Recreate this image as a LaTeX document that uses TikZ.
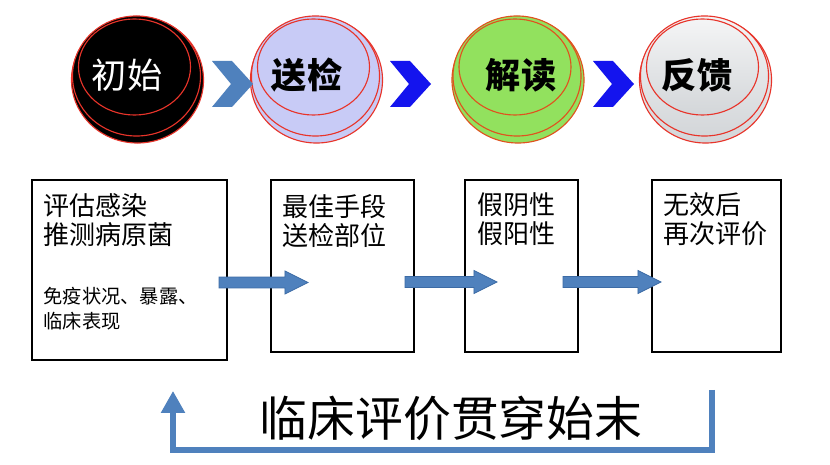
\documentclass[tikz,border=0pt]{standalone}
\usepackage{fontspec}
\usepackage{tikz}
\usetikzlibrary{arrows.meta,calc,shapes.geometric}
\newfontfamily\cjk{Noto Sans CJK SC}

\definecolor{stepblue}{HTML}{4F81BD}
\definecolor{stepedge}{HTML}{3C6BA5}
\definecolor{chevblue}{HTML}{1414EE}
\definecolor{ringred}{HTML}{E8342A}
\definecolor{ringorange}{HTML}{E0521E}
\definecolor{lavend}{HTML}{C8CBF6}
\definecolor{leafgreen}{HTML}{92E15E}
\definecolor{silver}{HTML}{D3D6D9}

\begin{document}
\begin{tikzpicture}[x=0.025cm,y=-0.025cm,line width=0.9pt,
  ring/.style={ellipse, draw=ringred, line width=0.8pt, inner sep=0pt},
  face1/.style={fill=black},
  face2/.style={fill=lavend},
  face3/.style={fill=leafgreen, draw=ringorange},
  face4/.style={top color=silver!25, bottom color=silver},
  stagebox/.style={draw, line width=1.4pt, inner sep=0pt},
  boxtext/.style={anchor=north west, align=left, inner sep=0pt,
    font=\cjk\fontsize{18.5}{20.8}\selectfont},
  smalltext/.style={anchor=north west, align=left, inner sep=0pt,
    font=\cjk\fontsize{13.7}{17.8}\selectfont},
  flow/.style={fill=stepblue, draw=stepedge, line width=0.6pt},
  feedback/.style={draw=stepblue, line width=3.6pt, line join=miter,
    -{Triangle[width=16.4pt,length=15.6pt]}},
]
\useasboundingbox[fill=white] (0,0) rectangle (830,465);

% stage buttons
\foreach \n/\cx/\tx/\tc/\wt in {1/137.5/127/white/\mdseries,
                                2/316.5/307/black/\bfseries,
                                3/518/521/black/\bfseries,
                                4/705.5/697/black/\bfseries}{
  \node[ring, face\n, minimum width=3.3cm, minimum height=3.15cm] (s\n a) at (\cx,80) {};
  \node[ring, face\n, minimum width=3.2cm, minimum height=3.0cm] (s\n b) at (\cx-1,76) {};
  \node[ring, face\n, minimum width=2.8cm, minimum height=2.4cm] (s\n) at (\cx-3,67) {};
}
\node[text=white, font=\cjk\fontsize{25}{28}\selectfont] (t1) at (127,75) {初始};
\node[font=\cjk\bfseries\fontsize{25}{28}\selectfont] (t2) at (307,75) {送检};
\node[font=\cjk\bfseries\fontsize{25}{28}\selectfont] (t3) at (521,75) {解读};
\node[font=\cjk\bfseries\fontsize{25}{28}\selectfont] (t4) at (697,75) {反馈};

% chevrons
\foreach \x/\c in {212/stepblue, 390/chevblue, 593/chevblue}
  \fill[\c] (\x,61) -- (\x+20,61) -- (\x+41,84) -- (\x+20,107)
    -- (\x,107) -- (\x+19,84) -- cycle;

% stage boxes
\node[stagebox, minimum width=4.875cm, minimum height=4.5cm] (b1) at (129.5,270) {};
\node[stagebox, minimum width=3.575cm, minimum height=4.3cm] (b2) at (342.5,266) {};
\node[stagebox, minimum width=2.825cm, minimum height=4.3cm] (b3) at (521.5,266) {};
\node[stagebox, minimum width=3.225cm, minimum height=4.3cm] (b4) at (716.5,266) {};

\node[boxtext] (b1t) at (43,193) {评估感染\\推测病原菌};
\node[smalltext] (b1s) at (43,287) {免疫状况、暴露、\\临床表现};
\node[boxtext] (b2t) at (282,194) {最佳手段\\送检部位};
\node[boxtext] (b3t) at (477,192) {假阴性\\假阳性};
\node[boxtext] (b4t) at (663,192) {无效后\\再次评价};

% block arrows between boxes
\coordinate (a1s) at (219,282.5);
\coordinate (a1e) at (308,282.5);
\coordinate (a2s) at (405,282);
\coordinate (a2e) at (497,282);
\coordinate (a3s) at (563,282);
\coordinate (a3e) at (661,282);
\foreach \a/\b in {a1s/a1e, a2s/a2e, a3s/a3e}
  \path[flow] let \p1=(\a), \p2=(\b) in
    (\x1,\y1+3.9pt) -- (\x2-16.4pt,\y1+3.9pt) -- (\x2-16.4pt,\y1+8.2pt)
    -- (\x2,\y1) -- (\x2-16.4pt,\y1-8.2pt) -- (\x2-16.4pt,\y1-3.9pt)
    -- (\x1,\y1-3.9pt) -- cycle;

% feedback loop
\coordinate (fbR) at (712,390);
\coordinate (fbL) at (173,391);
\draw[feedback] (fbR) -- (712,450) -| (fbL);
\node[font=\cjk\fontsize{34}{38}\selectfont] (motto) at (451,418) {临床评价贯穿始末};

\end{tikzpicture}
\end{document}
